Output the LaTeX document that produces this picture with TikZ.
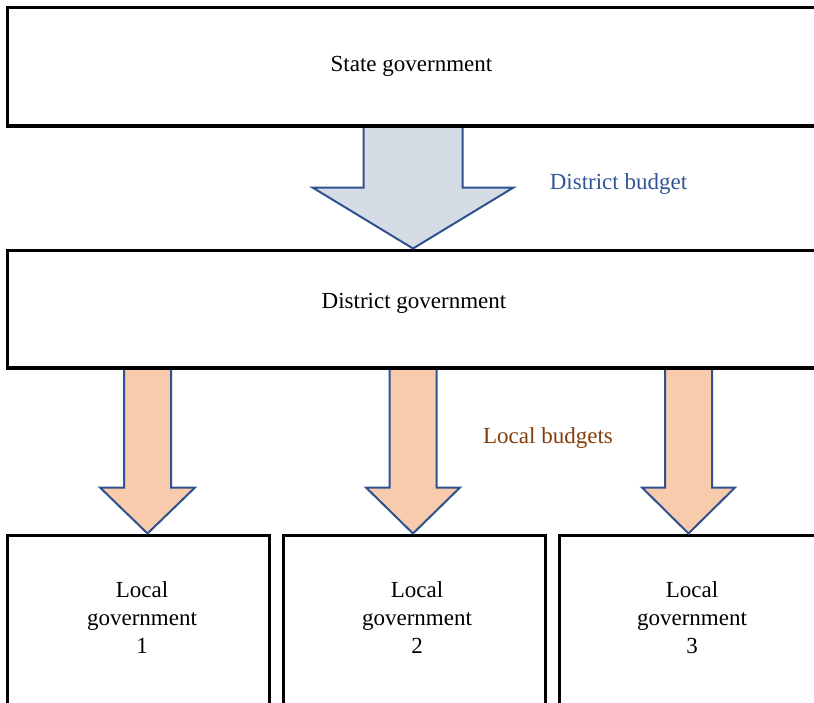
\documentclass[tikz,border=0pt]{standalone}
\usepackage{fontspec}
\setmainfont{Liberation Serif}
\usetikzlibrary{calc}
\definecolor{arrowedge}{HTML}{2F528F}
\definecolor{bluefill}{HTML}{D6DCE5}
\definecolor{orangefill}{HTML}{F8CBAD}
\definecolor{bluetext}{HTML}{2F5597}
\definecolor{browntext}{HTML}{843C0C}
\newcommand{\fatarrow}[6]{%
  \draw[#6] let \p1=(#1), \p2=(#2) in
    (\x1-#3pt,\y1) -- (\x1+#3pt,\y1) -- (\x1+#3pt,\y2+#5pt) -- (\x1+#4pt,\y2+#5pt)
    -- (\x2,\y2) -- (\x1-#4pt,\y2+#5pt) -- (\x1-#3pt,\y2+#5pt) -- cycle;}
\begin{document}
\begin{tikzpicture}[x=1pt,y=-1pt,
  box/.style={draw=black,line width=3pt,rectangle,inner sep=0pt},
  lbl/.style={font=\fontsize{23}{28}\selectfont,align=center,inner sep=0pt},
  bigarrow/.style={draw=arrowedge,line width=2pt,fill=bluefill,line join=miter},
  smallarrow/.style={draw=arrowedge,line width=2pt,fill=orangefill,line join=miter}]
\useasboundingbox (0,0) rectangle (814,702);
\clip (0,0) rectangle (814,702);
% boxes
\node[box,minimum width=820pt,minimum height=117.5pt] (state) at (417,66.25) {};
\node[box,minimum width=820pt,minimum height=117pt] (district) at (417,308.5) {};
\node[box,minimum width=262pt,minimum height=200pt] (local1) at (138,635) {};
\node[box,minimum width=262pt,minimum height=200pt] (local2) at (414,635) {};
\node[box,minimum width=262pt,minimum height=200pt] (local3) at (690,635) {};
% arrow anchor points
\coordinate (a0s) at ($(state.south west)+(407.5,0)$);
\coordinate (a0e) at ($(district.north west)+(407.5,0)$);
\coordinate (a1s) at ($(district.south west)+(142,0)$);
\coordinate (a1e) at ($(local1.north west)+(142,0)$);
\coordinate (a2s) at ($(district.south west)+(407.5,0)$);
\coordinate (a2e) at ($(local2.north west)+(131.5,0)$);
\coordinate (a3s) at ($(district.south west)+(683,0)$);
\coordinate (a3e) at ($(local3.north west)+(131,0)$);
\fatarrow{a0s}{a0e}{49.5}{100.5}{61}{bigarrow}
\fatarrow{a1s}{a1e}{23.5}{47.5}{46}{smallarrow}
\fatarrow{a2s}{a2e}{23.5}{47}{46}{smallarrow}
\fatarrow{a3s}{a3e}{23.5}{46.5}{46}{smallarrow}
% redraw box edges over arrow tops
\draw[line width=3pt] (state.south west) -- (state.south east);
\draw[line width=3pt] (district.south west) -- (district.south east);
% texts
\node[lbl,anchor=base] (statetext) at (411.5,71.5) {State government};
\node[lbl,anchor=base] (disttext) at (414,308) {District government};
\node[lbl,anchor=base,text=bluetext] (distbudget) at (618.5,189) {District budget};
\node[lbl,anchor=base,text=browntext] (localbudgets) at (548,443) {Local budgets};
\node[lbl] (l1text) at (142,618) {Local\\government\\1};
\node[lbl] (l2text) at (417,618) {Local\\government\\2};
\node[lbl] (l3text) at (692,618) {Local\\government\\3};
\end{tikzpicture}
\end{document}
